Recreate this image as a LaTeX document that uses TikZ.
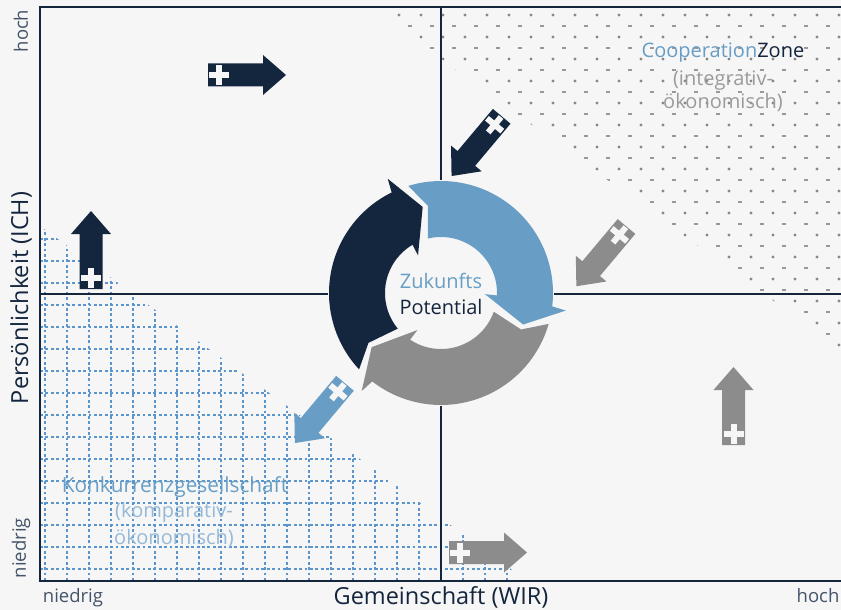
\documentclass[tikz,border=0pt]{standalone}
\usepackage{fontspec}
\setmainfont{Open Sans}
\definecolor{navy}{RGB}{20,38,62}
\definecolor{lblue}{RGB}{104,158,197}
\definecolor{mgray}{RGB}{140,140,140}
\definecolor{bg}{RGB}{246,246,246}
\definecolor{slate}{RGB}{68,84,106}
\definecolor{gridblue}{RGB}{90,150,205}
\definecolor{dotgray}{RGB}{135,135,135}
\definecolor{paleblue}{RGB}{150,185,215}
\definecolor{txtgray}{RGB}{155,155,155}
\newcommand\ringarrow[3]{%
  \pgfmathsetmacro\oa{#3+5}\pgfmathsetmacro\ob{#2+14.1}%
  \pgfmathsetmacro\ia{#2+18.5}\pgfmathsetmacro\ib{#3+1.5}%
  \pgfmathsetmacro\wo{#2+13}\pgfmathsetmacro\wi{#2+19.5}%
  \pgfmathsetmacro\ap{#3-3.5}%
  \fill[#1] plot[domain=0:1,samples=50] ({441+112*cos(\oa+(\ob-\oa)*\x)},{293-112*sin(\oa+(\ob-\oa)*\x)})
    -- ({441+126*cos(\wo)},{293-126*sin(\wo)})
    -- ({441+88*cos(#2)},{293-88*sin(#2)})
    -- ({441+44*cos(\wi)},{293-44*sin(\wi)})
    -- plot[domain=0:1,samples=50] ({441+56*cos(\ia+(\ib-\ia)*\x)},{293-56*sin(\ia+(\ib-\ia)*\x)})
    -- ({441+88*cos(\ap)},{293-88*sin(\ap)}) -- cycle;}
\tikzset{
  axisline/.style={navy,line width=2pt},
  gridline/.style={gridblue,line width=2.7pt,dash pattern=on 2.7pt off 2.7pt},
  pics/barrow/.style={code={
    \fill[#1] (0,-11.5) -- (55,-11.5) -- (55,-20) -- (78,0) -- (55,20) -- (55,11.5) -- (0,11.5) -- cycle;
    \fill[bg] (1,-3) rectangle (21,3);
    \fill[bg] (8,-10) rectangle (14,10);
  }},
  big/.style={font=\fontsize{23.5}{27}\selectfont},
  mid/.style={font=\fontsize{20}{24}\selectfont},
  konkf/.style={font=\fontsize{20.8}{24}\selectfont},
  small/.style={font=\fontsize{18.5}{22}\selectfont},
}
\begin{document}
\begin{tikzpicture}[x=1pt,y=-1pt]
\fill[bg] (0,0) rectangle (841,610);
\useasboundingbox (0,0) rectangle (841,610);
% dotted area (top right)
\begin{scope}
\clip (370,7) -- (841,7) -- (841,350) -- cycle;
\foreach \k in {0,...,30} {
  \pgfmathsetmacro\yy{15+11*\k}
  \ifodd\k
    \foreach \j in {0,...,21} {\fill[dotgray!85] ({388+22*\j-1.6},{\yy-0.9}) rectangle ({388+22*\j+1.6},{\yy+0.9});}
  \else
    \foreach \j in {0,...,21} {\fill[dotgray] ({377+22*\j},\yy) circle[radius=1.6];}
  \fi
}
\end{scope}
% blue grid (bottom left)
\begin{scope}
\clip (40,226) -- (526,580) -- (40,580) -- cycle;
\foreach \i in {0,...,21} {\draw[gridline] ({45+22*\i},200) -- ({45+22*\i},580);}
\foreach \j in {-4,...,12} {\draw[gridline] (40,{305+22*\j}) -- (841,{305+22*\j});}
\end{scope}
% axes
\coordinate (tl) at (40,7);
\coordinate (tr) at (841,7);
\coordinate (bl) at (40,580.5);
\coordinate (br) at (841,580.5);
\coordinate (mt) at (441,7);
\coordinate (mb) at (441,580.5);
\coordinate (ml) at (40,294);
\coordinate (mr) at (841,294);
\draw[axisline] (tl) -- (tr);
\draw[axisline] ([yshift=1pt]tl) -- ([yshift=-1pt]bl);
\draw[axisline] (bl) -- (br);
\draw[axisline] (mt) -- (mb);
\draw[axisline] (ml) -- (mr);
% cycle
\fill[bg] (441,293) circle[radius=113];
\ringarrow{navy}{102}{218}
\ringarrow{lblue}{-21}{102}
\ringarrow{mgray}{-142}{-21}
\node[mid,text=lblue,anchor=base] (zuk) at (441,288) {Zukunfts};
\node[mid,text=navy,anchor=base] (pot) at (441,314) {Potential};
% block arrows
\pic at (208,75) {barrow=navy};
\pic[rotate=90] at (91,289) {barrow=navy};
\pic[rotate=230] at (501.7,116.3) {barrow=navy};
\pic[rotate=230] at (626.5,226.5) {barrow=mgray};
\pic[rotate=230] at (345,383.3) {barrow=lblue};
\pic[rotate=90] at (733.5,445) {barrow=mgray};
\pic at (449,552.5) {barrow=mgray};
% quadrant labels
\node[mid,anchor=base] (coop) at (723,58) {\textcolor{lblue}{Cooperation}\textcolor{navy}{Zone}};
\node[mid,text=txtgray,anchor=base] (coop2) at (723,85) {(integrativ-};
\node[mid,text=txtgray,anchor=base] (coop3) at (723,109) {ökonomisch)};
\node[konkf,text=lblue,anchor=base] (konk) at (175,492) {Konkurrenzgesellschaft};
\node[mid,text=paleblue,anchor=base] (konk2) at (174,517) {(komparativ-};
\node[mid,text=paleblue,anchor=base] (konk3) at (174,544) {ökonomisch)};
% axis labels
\node[small,text=slate,rotate=90] (yhoch) at (21,31) {hoch};
\node[big,text=navy,rotate=90] (ylab) at (21,298) {Persönlichkeit (ICH)};
\node[small,text=slate,rotate=90] (ynied) at (21,548) {niedrig};
\node[small,text=slate,anchor=base] (xnied) at (73,602) {niedrig};
\node[big,text=navy,anchor=base] (xlab) at (441,604) {Gemeinschaft (WIR)};
\node[small,text=slate,anchor=base] (xhoch) at (818,602) {hoch};
\end{tikzpicture}
\end{document}
